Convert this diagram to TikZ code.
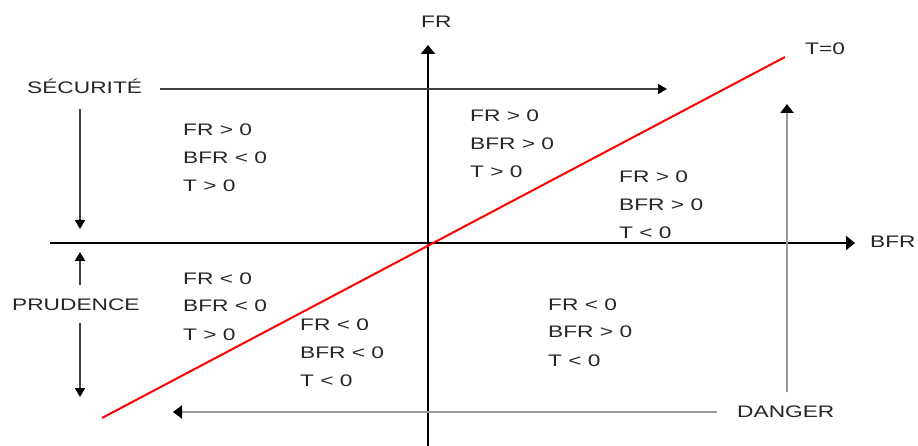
\documentclass[tikz,border=0pt]{standalone}
\usepackage{fontspec}
\setmainfont{Liberation Sans}
\newfontfamily\wfont[FakeStretch=1.36]{Liberation Sans}
\usetikzlibrary{arrows.meta}
\begin{document}
\begin{tikzpicture}[x=1pt,y=-1pt,
  lbl/.style={inner sep=0pt, anchor=base west, text=black!85,
    font=\wfont\fontsize{16.7}{28}\selectfont},
  blk/.style={lbl, align=left},
  axisline/.style={line width=2.4pt, black, -{Triangle[length=9pt,width=14pt]}},
  darrow/.style={line width=1.6pt, black!75, -{Triangle[length=9pt,width=10pt,color=black]}},
  garrow/.style={line width=2.4pt, black!40, -{Triangle[length=9pt,width=13pt,color=black]}},
  tline/.style={line width=2pt, red}]
\useasboundingbox (0,0) rectangle (918,446);
% coordinates
\coordinate (xl) at (50,243);
\coordinate (xr) at (855,243);
\coordinate (yb) at (428,446);
\coordinate (yt) at (428,45);
\coordinate (r1) at (102,418);
\coordinate (r2) at (785,57);
\coordinate (s1) at (160,89);
\coordinate (s2) at (667,89);
\coordinate (sd1) at (80,109);
\coordinate (sd2) at (80,229);
\coordinate (pu1) at (80,285);
\coordinate (pu2) at (80,252);
\coordinate (pd1) at (80,323);
\coordinate (pd2) at (80,397);
\coordinate (du1) at (787,392);
\coordinate (du2) at (787,104);
\coordinate (dl1) at (717,412);
\coordinate (dl2) at (173,412);
% axes
\draw[axisline] (xl) -- (xr);
\draw[axisline] (yb) -- (yt);
% T=0 line
\draw[tline] (r1) -- (r2);
% side arrows
\draw[darrow] (s1) -- (s2);
\draw[darrow] (sd1) -- (sd2);
\draw[darrow] (pu1) -- (pu2);
\draw[darrow] (pd1) -- (pd2);
\draw[garrow] (du1) -- (du2);
\draw[garrow] (dl1) -- (dl2);
% labels
\node[lbl] (fr) at (421,28) {FR};
\node[lbl] (bfr) at (870,248) {BFR};
\node[lbl] (t0) at (805,55) {T=0};
\node[lbl] (sec) at (27,94) {SÉCURITÉ};
\node[lbl] (pru) at (12,310) {PRUDENCE};
\node[lbl] (dan) at (737,417) {DANGER};
% region blocks (anchor at baseline of last line)
\node[blk] (b1) at (183,192) {FR > 0\\BFR < 0\\T > 0};
\node[blk] (b2) at (470,178) {FR > 0\\BFR > 0\\T > 0};
\node[blk] (b3) at (619,239) {FR > 0\\BFR > 0\\T < 0};
\node[blk] (b4) at (183,340) {FR < 0\\BFR < 0\\T > 0};
\node[blk] (b5) at (300,386) {FR < 0\\BFR < 0\\T < 0};
\node[blk] (b6) at (548,366) {FR < 0\\BFR > 0\\T < 0};
\end{tikzpicture}
\end{document}
